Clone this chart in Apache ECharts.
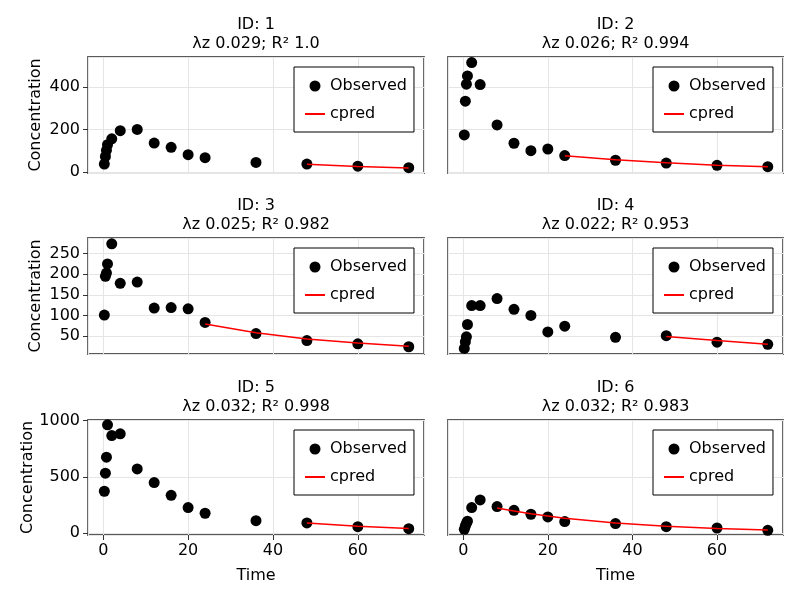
<!DOCTYPE html>
<html><head><meta charset="utf-8">
<script src="https://cdn.jsdelivr.net/npm/echarts@6/dist/echarts.min.js"></script>
<style>html,body{margin:0;padding:0;background:#fff}#c{width:800px;height:600px}</style>
</head><body><div id="c"></div>
<script>
// ---- data ----
const ids = [1, 2, 3, 4, 5, 6];
const lambdaZ = ['0.029', '0.026', '0.025', '0.022', '0.032', '0.032'];
const rSquared = ['1.0', '0.994', '0.982', '0.953', '0.998', '0.983'];
const times = [0.25, 0.5, 0.75, 1, 2, 4, 8, 12, 16, 20, 24, 36, 48, 60, 72];

const observed1 = [37, 73, 102, 128, 156, 194, 200, 136, 116, 81, 67, 45, 37, 27, 20];
const observed2 = [174, 333, 413, 452, 515, 411, 221, 135, 100, 108, 77, 55, 42, 31, 25];
const observed3 = [101, 195, 203, 225, 274, 178, 181, 118, 119, 116, 83, 56, 39, 31, 24];
const observed4 = [20, 36, 48, 78, 124, 124, 141, 115, 100, 60, 74, 47, 51, 35, 30];
const observed5 = [373, 533, 675, 962, 867, 882, 571, 450, 337, 228, 178, 112, 92, 59, 41];
const observed6 = [35, 65, 89, 107, 228, 296, 237, 204, 169, 145, 104, 86, 59, 47, 27];

const cpredTimes1 = [48, 60, 72];
const cpred1 = [36, 26, 18];
const cpredTimes2 = [24, 36, 48, 60, 72];
const cpred2 = [76, 57, 43, 32, 24];
const cpredTimes3 = [24, 36, 48, 60, 72];
const cpred3 = [79, 58, 43, 33, 25];
const cpredTimes4 = [48, 60, 72];
const cpred4 = [49, 39, 30];
const cpredTimes5 = [48, 60, 72];
const cpred5 = [92, 63, 43];
const cpredTimes6 = [8, 12, 16, 20, 24, 36, 48, 60, 72];
const cpred6 = [225, 198, 174, 153, 134, 92, 63, 43, 29];

const observedAll = [observed1, observed2, observed3, observed4, observed5, observed6];
const cpredTimesAll = [cpredTimes1, cpredTimes2, cpredTimes3, cpredTimes4, cpredTimes5, cpredTimes6];
const cpredAll = [cpred1, cpred2, cpred3, cpred4, cpred5, cpred6];

// ---- layout ----
const FONT = 'DejaVu Sans';
const colLeft = [88, 448];
const colWidth = [336, 335];
const rowTop = [57, 238, 420];
const rowHeight = [116, 116, 115];
const rowYMin = [-5, 6.4, -15];
const rowYMax = [541, 288, 1005];
const rowSplit = [3, 5, 2];

const grid = [], xAxis = [], yAxis = [], series = [], title = [], legend = [];
for (let i = 0; i < 6; i++) {
  const r = Math.floor(i / 2), c = i % 2;
  const isBottom = r === 2, isLeft = c === 0;
  grid.push({
    left: colLeft[c], top: rowTop[r], width: colWidth[c], height: rowHeight[r],
    show: true, borderColor: '#5a5a5a', borderWidth: 1.8, backgroundColor: 'transparent'
  });
  xAxis.push({
    type: 'value', gridIndex: i, min: -3.6, max: 75.6, splitNumber: 4,
    axisLine: { show: false, onZero: false },
    axisTick: { show: isBottom, length: 5, inside: false, lineStyle: { color: '#333' } },
    axisLabel: { show: isBottom, fontSize: 16, fontFamily: FONT, color: '#000', margin: 8,
                 showMinLabel: false, showMaxLabel: false },
    splitLine: { show: true, lineStyle: { color: '#e5e5e5', width: 1 } },
    name: isBottom ? 'Time' : '', nameLocation: 'middle', nameGap: 33,
    nameTextStyle: { fontSize: 16, fontFamily: FONT, color: '#000' }
  });
  yAxis.push({
    type: 'value', gridIndex: i, min: rowYMin[r], max: rowYMax[r], splitNumber: rowSplit[r],
    axisLine: { show: false, onZero: false },
    axisTick: { show: isLeft, length: 5, lineStyle: { color: '#333' } },
    axisLabel: { show: isLeft, fontSize: 16, fontFamily: FONT, color: '#000', margin: 8,
                 showMinLabel: false, showMaxLabel: false,
                 formatter: v => String(v) },
    splitLine: { show: true, lineStyle: { color: '#e5e5e5', width: 1 } },
    name: isLeft ? 'Concentration' : '', nameLocation: 'middle', nameGap: 44, nameRotate: 90,
    nameTextStyle: { fontSize: 16, fontFamily: FONT, color: '#000' }
  });
  series.push({
    type: 'scatter', name: 'Observed', xAxisIndex: i, yAxisIndex: i,
    symbol: 'circle', symbolSize: 11, itemStyle: { color: '#000', opacity: 1 },
    data: times.map((t, k) => [t, observedAll[i][k]]), z: 3
  });
  series.push({
    type: 'line', name: 'cpred', xAxisIndex: i, yAxisIndex: i,
    symbol: 'none', showSymbol: false, lineStyle: { color: '#ff0000', width: 1.5 },
    itemStyle: { color: '#ff0000' },
    data: cpredTimesAll[i].map((t, k) => [t, cpredAll[i][k]]), z: 4
  });
  title.push({
    text: 'ID: ' + ids[i] + '\nλz ' + lambdaZ[i] + '; R² ' + rSquared[i],
    left: colLeft[c] + colWidth[c] / 2, textAlign: 'center',
    top: rowTop[r] - 41, padding: 0,
    textStyle: { fontSize: 16, fontWeight: 'normal', fontFamily: FONT, color: '#000', lineHeight: 18.5 }
  });
  legend.push({
    orient: 'vertical', left: colLeft[c] + colWidth[c] - 130, top: rowTop[r] + 10,
    data: [
      { name: 'Observed', icon: 'circle', itemStyle: { opacity: 1 } },
      { name: 'cpred', itemStyle: { opacity: 0 } }
    ],
    selectedMode: false,
    itemWidth: 20, itemHeight: 11, itemGap: 12,
    padding: [11, 7, 10, 10],
    backgroundColor: '#fff', borderColor: '#000', borderWidth: 1, borderRadius: 0,
    textStyle: { fontSize: 16, fontFamily: FONT, color: '#000' }
  });
}

const chart = echarts.init(document.getElementById('c'), null, { renderer: 'canvas' });
chart.setOption({
  animation: false, backgroundColor: '#fff',
  title, legend, grid, xAxis, yAxis, series
});
</script>
</body></html>
